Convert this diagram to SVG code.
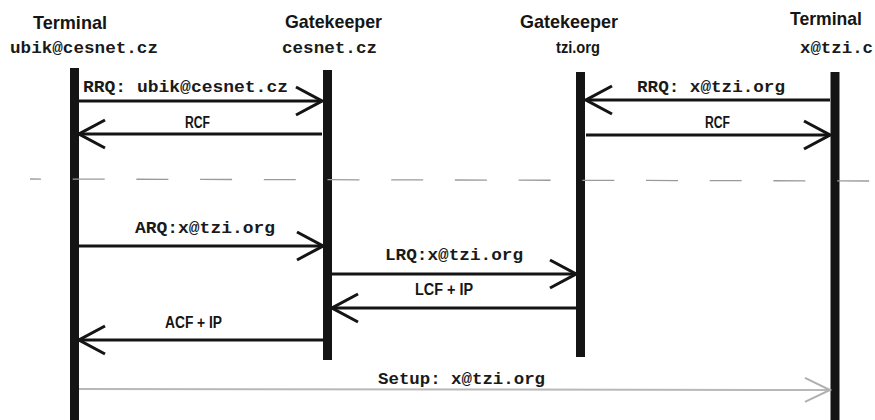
<svg xmlns="http://www.w3.org/2000/svg" width="875" height="420" viewBox="0 0 875 420">
<style>
.hdr{font-family:"Liberation Sans",Arial,sans-serif;font-weight:bold;font-size:19px;fill:#151515}
.sub{font-family:"Liberation Mono","Courier New",monospace;font-weight:bold;font-size:16px;fill:#1a1a1a}
.lbl{font-family:"Liberation Mono","Courier New",monospace;font-weight:bold;font-size:16px;fill:#1a1a1a}
.sl{font-family:"Liberation Sans",Arial,sans-serif;font-weight:bold;font-size:16px;fill:#151515}
.life{stroke:#141414;stroke-width:9;fill:none}
.msg{stroke:#141414;stroke-width:3;fill:none;marker-end:url(#ah)}
.setup{stroke:#b8b8b8;stroke-width:2;fill:none;marker-end:url(#ahg)}
.sep{stroke:#9a9a9a;stroke-width:1.3;stroke-dasharray:32 31.7;stroke-dashoffset:21;fill:none}
</style>
<defs>
<marker id="ah" markerUnits="userSpaceOnUse" markerWidth="30" markerHeight="32" viewBox="0 0 30 32" refX="28" refY="16" orient="auto">
<path d="M2,2 L28,16 L2,30" fill="none" stroke="#141414" stroke-width="3"/>
</marker>
<marker id="ahg" markerUnits="userSpaceOnUse" markerWidth="30" markerHeight="28" viewBox="0 0 30 28" refX="27" refY="14" orient="auto">
<path d="M2,2 L27,14 L2,26" fill="none" stroke="#b0b0b0" stroke-width="2"/>
</marker>
</defs>
<rect width="875" height="420" fill="#ffffff"/>

<g id="terminal-ubik">
<text class="hdr" x="33" y="29" textLength="74" lengthAdjust="spacingAndGlyphs">Terminal</text>
<text class="sub" x="10" y="53" textLength="148" lengthAdjust="spacingAndGlyphs">ubik@cesnet.cz</text>
<line class="life" x1="74.5" y1="68" x2="74.5" y2="420"/>
</g>
<g id="gatekeeper-cesnet">
<text class="hdr" x="285" y="28" textLength="97" lengthAdjust="spacingAndGlyphs">Gatekeeper</text>
<text class="sub" x="282" y="53" textLength="95" lengthAdjust="spacingAndGlyphs">cesnet.cz</text>
<line class="life" x1="327.5" y1="70" x2="327.5" y2="360"/>
</g>
<g id="gatekeeper-tzi">
<text class="hdr" x="520" y="28" textLength="98" lengthAdjust="spacingAndGlyphs">Gatekeeper</text>
<text class="sl" x="556" y="53" textLength="44" lengthAdjust="spacingAndGlyphs">tzi.org</text>
<line class="life" x1="580.5" y1="72" x2="580.5" y2="357"/>
</g>
<g id="terminal-x">
<text class="hdr" x="790" y="25" textLength="72" lengthAdjust="spacingAndGlyphs">Terminal</text>
<text class="sub" x="800" y="53" textLength="73" lengthAdjust="spacingAndGlyphs">x@tzi.c</text>
<line class="life" x1="835" y1="72" x2="835" y2="420"/>
</g>

<g id="connectors">
<line class="sep" x1="30" y1="179" x2="870" y2="181"/>

<line class="msg" x1="79" y1="101" x2="322" y2="101"/>
<text class="lbl" x="83" y="92" textLength="205" lengthAdjust="spacingAndGlyphs">RRQ: ubik@cesnet.cz</text>

<line class="msg" x1="322" y1="134" x2="79" y2="134"/>
<text class="sl" x="185" y="128" textLength="25" lengthAdjust="spacingAndGlyphs">RCF</text>

<line class="msg" x1="830" y1="100" x2="586" y2="100"/>
<text class="lbl" x="637" y="92" textLength="148" lengthAdjust="spacingAndGlyphs">RRQ: x@tzi.org</text>

<line class="msg" x1="586" y1="135" x2="830" y2="135"/>
<text class="sl" x="705" y="128" textLength="25" lengthAdjust="spacingAndGlyphs">RCF</text>

<line class="msg" x1="79" y1="246" x2="323" y2="246"/>
<text class="lbl" x="135" y="233" textLength="140" lengthAdjust="spacingAndGlyphs">ARQ:x@tzi.org</text>

<line class="msg" x1="332" y1="274" x2="576" y2="274"/>
<text class="lbl" x="385" y="260" textLength="138" lengthAdjust="spacingAndGlyphs">LRQ:x@tzi.org</text>

<line class="msg" x1="576" y1="308" x2="332" y2="308"/>
<text class="sl" x="415" y="295" textLength="58" lengthAdjust="spacingAndGlyphs">LCF + IP</text>

<line class="msg" x1="323" y1="340" x2="79" y2="340"/>
<text class="sl" x="165" y="328" textLength="57" lengthAdjust="spacingAndGlyphs">ACF + IP</text>

<line class="setup" x1="79" y1="389" x2="830" y2="390"/>
<text class="lbl" x="378" y="384" textLength="167" lengthAdjust="spacingAndGlyphs">Setup: x@tzi.org</text>
</g>
</svg>
